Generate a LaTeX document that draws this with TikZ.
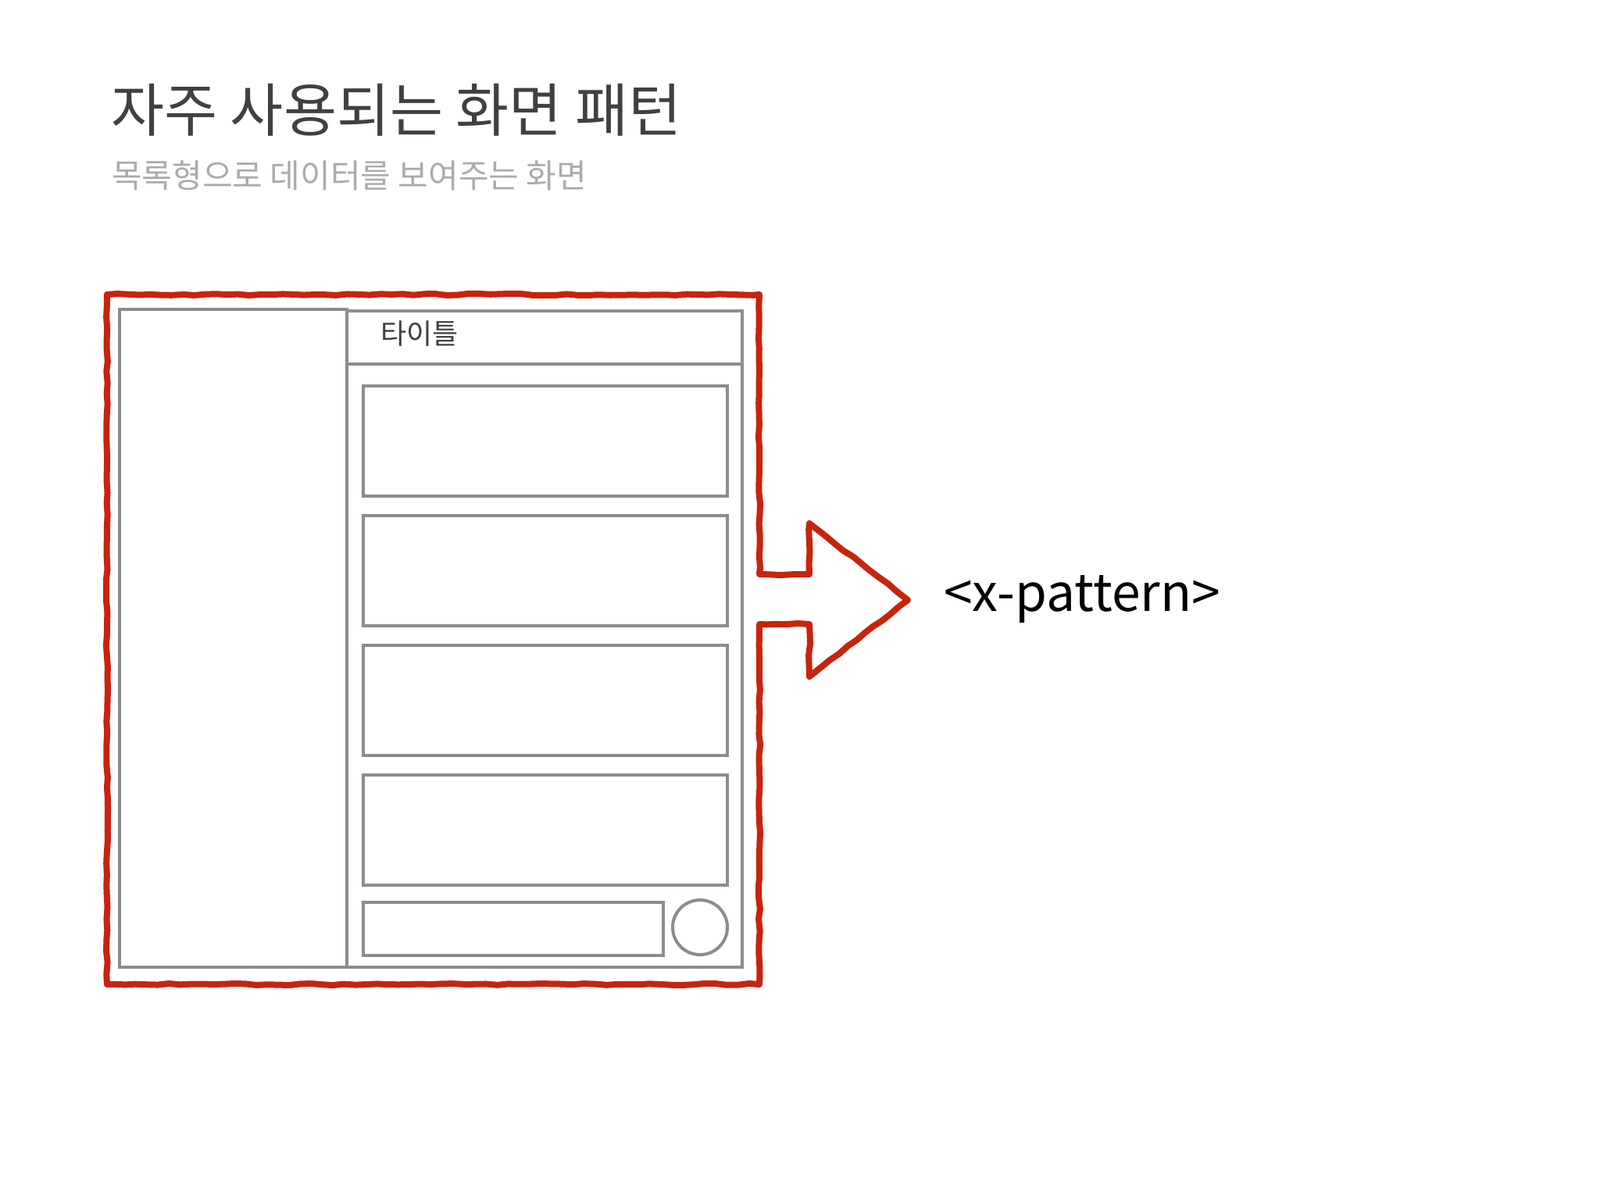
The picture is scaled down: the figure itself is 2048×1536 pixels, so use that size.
\documentclass[tikz,border=0pt]{standalone}
\usepackage{fontspec}
\usetikzlibrary{decorations.pathmorphing}
\setmainfont{Noto Sans CJK KR}
\definecolor{titlegray}{HTML}{404040}
\definecolor{subgray}{HTML}{ABABAB}
\definecolor{linegray}{HTML}{8C8C8C}
\definecolor{framered}{HTML}{C8230C}
\tikzset{
  wire/.style={draw=linegray, line width=4pt, line join=miter},
  item/.style={wire, rectangle, inner sep=0pt, anchor=north west},
  redline/.style={draw=framered, line width=8pt, line join=round, line cap=round,
    decorate, decoration={random steps, segment length=14pt, amplitude=1.1pt}},
}
\begin{document}
\begin{tikzpicture}[x=1pt,y=-1pt]
\useasboundingbox[fill=white] (0,0) rectangle (2048,1536);
% titles
\node[anchor=west, inner sep=0pt, text=titlegray, font=\fontsize{74}{80}\selectfont] (title) at (142,141) {자주 사용되는 화면 패턴};
\node[anchor=west, inner sep=0pt, text=subgray, font=\fontsize{42}{46}\selectfont] (subtitle) at (143,225) {목록형으로 데이터를 보여주는 화면};
% left panel
\draw[wire] (153,396) rectangle (444,1238);
% right panel
\draw[wire] (444,398) rectangle (950,1238);
\draw[wire] (444,466) -- (950,466);
\node[anchor=west, inner sep=0pt, text=titlegray, font=\fontsize{36}{40}\selectfont] (tbar) at (487,427) {타이틀};
% list items
\node[item, minimum width=466pt, minimum height=141pt] (i1) at (463,492) {};
\node[item, minimum width=466pt, minimum height=141pt] (i2) at (463,658) {};
\node[item, minimum width=466pt, minimum height=141pt] (i3) at (463,824) {};
\node[item, minimum width=466pt, minimum height=141pt] (i4) at (463,990) {};
\node[item, minimum width=384pt, minimum height=68pt] (input) at (463,1153) {};
\node[wire, circle, minimum size=70pt, inner sep=0pt] (btn) at (896,1187) {};
% red frame with arrow
\draw[redline] (137,377) -- (972,377) -- (972,735) -- (1036,735) -- (1036,670)
  -- (1162,768) -- (1036,866) -- (1036,799) -- (972,799) -- (972,1260)
  -- (137,1260) -- cycle;
\node[anchor=west, inner sep=0pt, text=black, font=\fontsize{66}{72}\selectfont] (xp) at (1208,767) {<x-pattern>};
\end{tikzpicture}
\end{document}
